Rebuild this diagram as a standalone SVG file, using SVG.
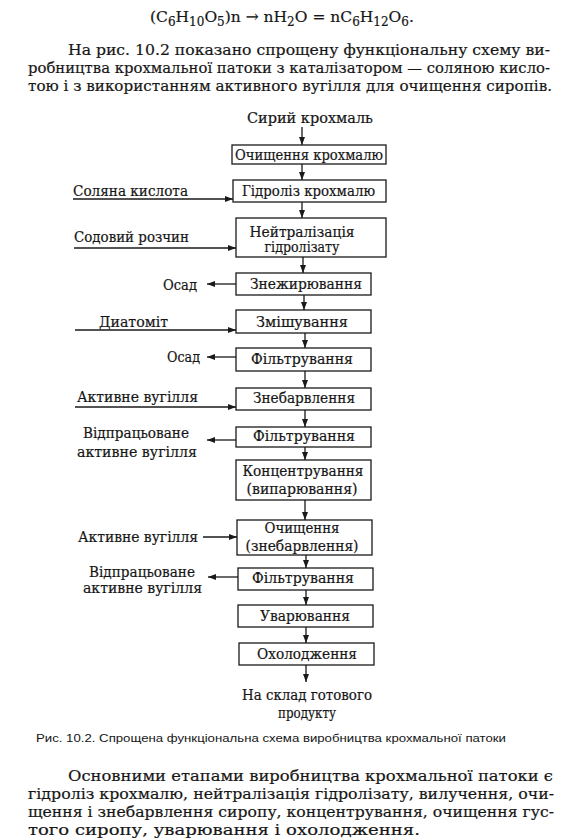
<svg xmlns="http://www.w3.org/2000/svg" width="573" height="840" viewBox="0 0 573 840">
<defs>
<marker id="ah" viewBox="0 0 8 6" refX="8" refY="3" markerWidth="8" markerHeight="6" markerUnits="userSpaceOnUse" orient="auto">
<path d="M0,0 L8,3 L0,6 z" fill="#1a1a1a"/>
</marker>
<style>
.body{font-family:"DejaVu Serif","Liberation Serif",serif;font-size:15.5px;fill:#161616;stroke:#161616;stroke-width:0.2}
.lbl{font-family:"DejaVu Serif","Liberation Serif",serif;font-size:14px;fill:#161616;stroke:#161616;stroke-width:0.2}
.cap{font-family:"Liberation Sans","DejaVu Sans",sans-serif;font-size:11.5px;fill:#161616}
.box{fill:#fff;stroke:#1a1a1a;stroke-width:1.3}
.ar{fill:none;stroke:#1a1a1a;stroke-width:1.3;marker-end:url(#ah)}
</style>
</defs>
<rect width="573" height="840" fill="#fff"/>

<g id="top-text">
<text class="body" x="150" y="22" font-size="18">(C<tspan font-size="12" dy="4">6</tspan><tspan dy="-4">H</tspan><tspan font-size="12" dy="4">10</tspan><tspan dy="-4">O</tspan><tspan font-size="12" dy="4">5</tspan><tspan dy="-4">)n → nH</tspan><tspan font-size="12" dy="4">2</tspan><tspan dy="-4">O = nC</tspan><tspan font-size="12" dy="4">6</tspan><tspan dy="-4">H</tspan><tspan font-size="12" dy="4">12</tspan><tspan dy="-4">O</tspan><tspan font-size="12" dy="4">6</tspan><tspan dy="-4">.</tspan></text>
<text class="body" x="68" y="55" textLength="482" lengthAdjust="spacingAndGlyphs">На рис. 10.2 показано спрощену функціональну схему ви-</text>
<text class="body" x="28" y="73" textLength="522" lengthAdjust="spacingAndGlyphs">робництва крохмальної патоки з каталізатором — соляною кисло-</text>
<text class="body" x="28" y="91" textLength="524" lengthAdjust="spacingAndGlyphs">тою і з використанням активного вугілля для очищення сиропів.</text>
</g>

<g id="connectors">
<line class="ar" x1="302" y1="127" x2="302" y2="145"/>
<line class="ar" x1="302" y1="164" x2="302" y2="180"/>
<line class="ar" x1="302" y1="202" x2="302" y2="218"/>
<line class="ar" x1="303" y1="257" x2="303" y2="273"/>
<line class="ar" x1="304" y1="295" x2="304" y2="310"/>
<line class="ar" x1="305" y1="333" x2="305" y2="348"/>
<line class="ar" x1="305" y1="371" x2="305" y2="388"/>
<line class="ar" x1="305" y1="410" x2="305" y2="427"/>
<line class="ar" x1="305" y1="447" x2="305" y2="460"/>
<line class="ar" x1="305" y1="500" x2="305" y2="520"/>
<line class="ar" x1="306" y1="555" x2="306" y2="568"/>
<line class="ar" x1="306" y1="590" x2="306" y2="605"/>
<line class="ar" x1="306" y1="627" x2="306" y2="643"/>
<line class="ar" x1="306" y1="665" x2="306" y2="682"/>
<line class="ar" x1="73" y1="199" x2="233" y2="199"/>
<line class="ar" x1="74" y1="248" x2="236" y2="248"/>
<line class="ar" x1="236" y1="284" x2="207" y2="284"/>
<line class="ar" x1="75" y1="330" x2="236" y2="330"/>
<line class="ar" x1="236" y1="357" x2="207" y2="357"/>
<line class="ar" x1="75" y1="407" x2="236" y2="407"/>
<line class="ar" x1="236" y1="440" x2="207" y2="440"/>
<line class="ar" x1="203" y1="537" x2="237" y2="537"/>
<line class="ar" x1="238" y1="577" x2="208" y2="577"/>
</g>

<g id="n-start"><text class="lbl" x="310" y="123" text-anchor="middle" textLength="126" lengthAdjust="spacingAndGlyphs">Сирий крохмаль</text></g>

<g id="n1"><rect class="box" x="232" y="145" width="154" height="19"/><text class="lbl" x="309" y="160" text-anchor="middle" textLength="148" lengthAdjust="spacingAndGlyphs">Очищення крохмалю</text></g>
<g id="n2"><rect class="box" x="233" y="180" width="153" height="22"/><text class="lbl" x="308.5" y="196" text-anchor="middle" textLength="133" lengthAdjust="spacingAndGlyphs">Гідроліз крохмалю</text></g>
<g id="n3"><rect class="box" x="236" y="218" width="150" height="39"/><text class="lbl" x="302" y="236.5" text-anchor="middle" textLength="105" lengthAdjust="spacingAndGlyphs">Нейтралізація</text><text class="lbl" x="302" y="252" text-anchor="middle" textLength="75" lengthAdjust="spacingAndGlyphs">гідролізату</text></g>
<g id="n4"><rect class="box" x="236" y="273" width="135" height="22"/><text class="lbl" x="306" y="289" text-anchor="middle" textLength="112" lengthAdjust="spacingAndGlyphs">Знежирювання</text></g>
<g id="n5"><rect class="box" x="236" y="310" width="135" height="23"/><text class="lbl" x="302" y="327" text-anchor="middle" textLength="92" lengthAdjust="spacingAndGlyphs">Змішування</text></g>
<g id="n6"><rect class="box" x="236" y="348" width="135" height="23"/><text class="lbl" x="302" y="364" text-anchor="middle" textLength="102" lengthAdjust="spacingAndGlyphs">Фільтрування</text></g>
<g id="n7"><rect class="box" x="236" y="388" width="135" height="22"/><text class="lbl" x="304" y="403" text-anchor="middle" textLength="102" lengthAdjust="spacingAndGlyphs">Знебарвлення</text></g>
<g id="n8"><rect class="box" x="236" y="427" width="135" height="20"/><text class="lbl" x="304" y="441" text-anchor="middle" textLength="102" lengthAdjust="spacingAndGlyphs">Фільтрування</text></g>
<g id="n9"><rect class="box" x="236" y="460" width="135" height="40"/><text class="lbl" x="303" y="476" text-anchor="middle" textLength="121" lengthAdjust="spacingAndGlyphs">Концентрування</text><text class="lbl" x="302" y="494" text-anchor="middle" textLength="111" lengthAdjust="spacingAndGlyphs">(випарювання)</text></g>
<g id="n10"><rect class="box" x="237" y="520" width="135" height="35"/><text class="lbl" x="302" y="533" text-anchor="middle" textLength="75" lengthAdjust="spacingAndGlyphs">Очищення</text><text class="lbl" x="302" y="551" text-anchor="middle" textLength="113" lengthAdjust="spacingAndGlyphs">(знебарвлення)</text></g>
<g id="n11"><rect class="box" x="238" y="568" width="135" height="22"/><text class="lbl" x="303" y="583" text-anchor="middle" textLength="102" lengthAdjust="spacingAndGlyphs">Фільтрування</text></g>
<g id="n12"><rect class="box" x="238" y="605" width="135" height="22"/><text class="lbl" x="305" y="621" text-anchor="middle" textLength="90" lengthAdjust="spacingAndGlyphs">Уварювання</text></g>
<g id="n13"><rect class="box" x="239" y="643" width="135" height="22"/><text class="lbl" x="307" y="659" text-anchor="middle" textLength="100" lengthAdjust="spacingAndGlyphs">Охолодження</text></g>
<g id="n-end"><text class="lbl" x="307" y="700" text-anchor="middle" textLength="130" lengthAdjust="spacingAndGlyphs">На склад готового</text><text class="lbl" x="307" y="718" text-anchor="middle" textLength="58" lengthAdjust="spacingAndGlyphs">продукту</text></g>

<g id="in-hcl"><text class="lbl" x="73" y="196" textLength="115" lengthAdjust="spacingAndGlyphs">Соляна кислота</text></g>
<g id="in-soda"><text class="lbl" x="74" y="242" textLength="115" lengthAdjust="spacingAndGlyphs">Содовий розчин</text></g>
<g id="out-osad1"><text class="lbl" x="163" y="290" textLength="34" lengthAdjust="spacingAndGlyphs">Осад</text></g>
<g id="in-diatomit"><text class="lbl" x="99" y="327" textLength="69" lengthAdjust="spacingAndGlyphs">Диатоміт</text></g>
<g id="out-osad2"><text class="lbl" x="167" y="362" textLength="33" lengthAdjust="spacingAndGlyphs">Осад</text></g>
<g id="in-carbon1"><text class="lbl" x="77" y="402" textLength="121" lengthAdjust="spacingAndGlyphs">Активне вугілля</text></g>
<g id="out-carbon1"><text class="lbl" x="83" y="438" textLength="106" lengthAdjust="spacingAndGlyphs">Відпрацьоване</text><text class="lbl" x="77" y="457" textLength="120" lengthAdjust="spacingAndGlyphs">активне вугілля</text></g>
<g id="in-carbon2"><text class="lbl" x="78" y="542" textLength="120" lengthAdjust="spacingAndGlyphs">Активне вугілля</text></g>
<g id="out-carbon2"><text class="lbl" x="89" y="577" textLength="106" lengthAdjust="spacingAndGlyphs">Відпрацьоване</text><text class="lbl" x="83" y="593" textLength="119" lengthAdjust="spacingAndGlyphs">активне вугілля</text></g>

<g id="caption"><text class="cap" x="36" y="742" textLength="470" lengthAdjust="spacingAndGlyphs">Рис. 10.2. Спрощена функціональна схема виробництва крохмальної патоки</text></g>

<g id="bottom-text">
<text class="body" x="68" y="781" textLength="485" lengthAdjust="spacingAndGlyphs">Основними етапами виробництва крохмальної патоки є</text>
<text class="body" x="28" y="799" textLength="526" lengthAdjust="spacingAndGlyphs">гідроліз крохмалю, нейтралізація гідролізату, вилучення, очи-</text>
<text class="body" x="28" y="817" textLength="526" lengthAdjust="spacingAndGlyphs">щення і знебарвлення сиропу, концентрування, очищення гус-</text>
<text class="body" x="28" y="835" textLength="392" lengthAdjust="spacingAndGlyphs">того сиропу, уварювання і охолодження.</text>
</g>
</svg>
